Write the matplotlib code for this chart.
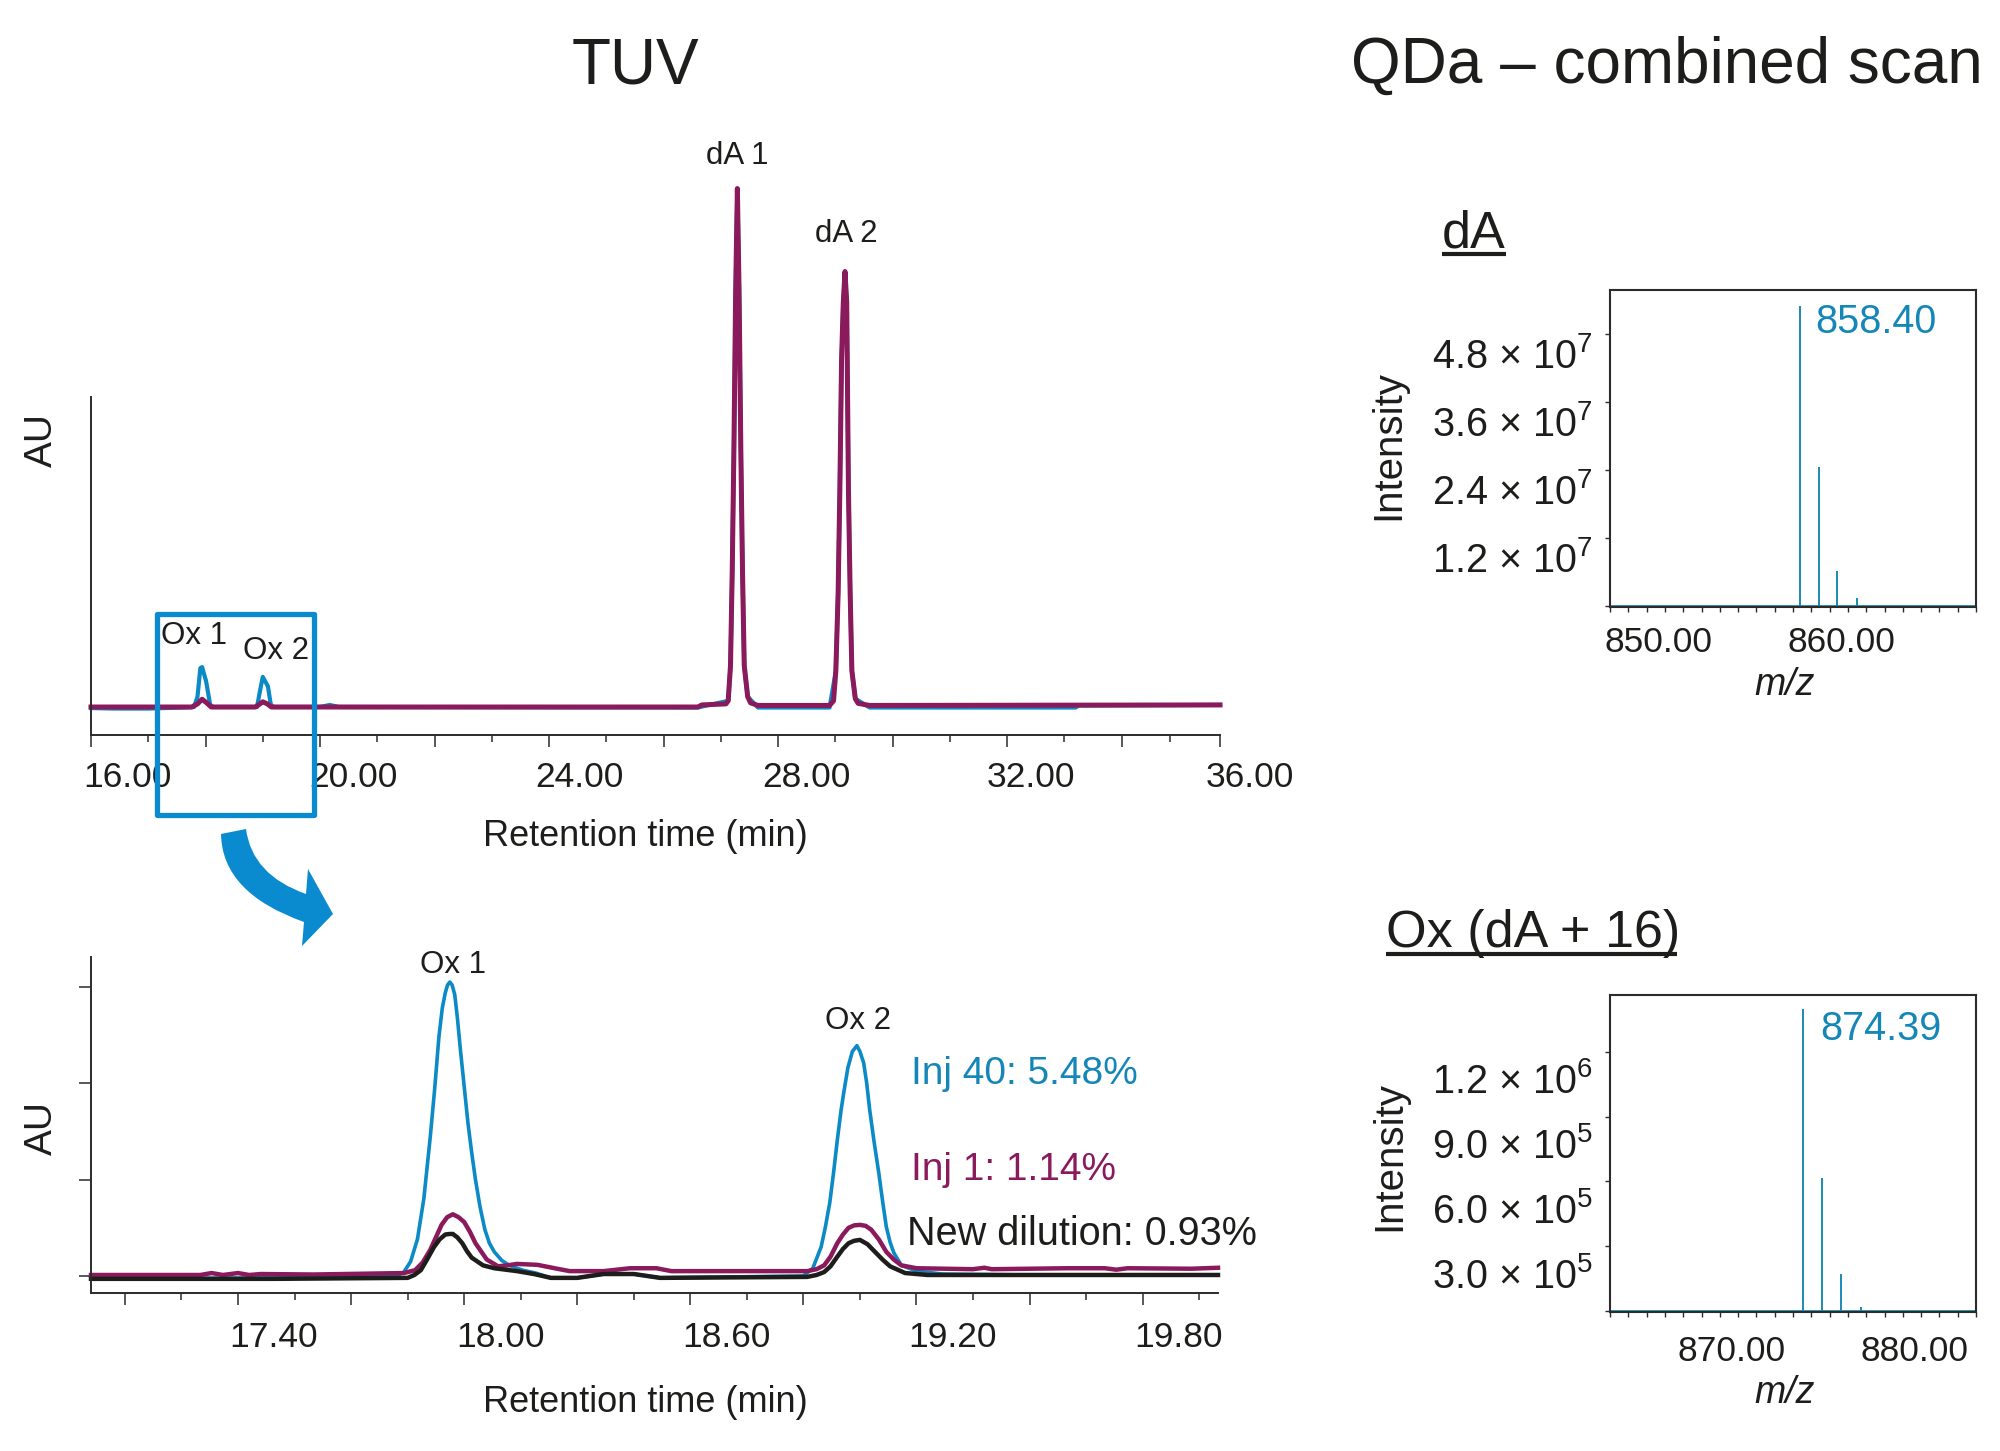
import numpy as np
import matplotlib
matplotlib.use("Agg")
import matplotlib.pyplot as plt
from matplotlib.patches import PathPatch, Rectangle
from matplotlib.path import Path
from matplotlib.transforms import Affine2D

plt.rcParams['font.family'] = ['Liberation Sans', 'DejaVu Sans']
plt.rcParams['mathtext.fontset'] = 'custom'
plt.rcParams['mathtext.rm'] = 'Liberation Sans'
plt.rcParams['mathtext.it'] = 'Liberation Sans:italic'
plt.rcParams['mathtext.default'] = 'regular'

BLUE = "#0b8ac6"
BOX_BLUE = "#0a8bcf"
BURGUNDY = "#8a1a5c"
BLACK = "#1d1d1b"
TEAL = "#1b8bb5"
LABEL_BLUE = "#1586b8"
AXIS = "#2b2b2b"

# full chromatogram, scaled so that dA 1 = 1
full_inj1_t = [16.0, 17.76, 17.86, 17.94, 18.02, 18.1, 18.87, 18.95, 19.0, 19.08, 19.15, 26.6, 26.67, 27.09, 27.13,
               27.17, 27.2, 27.23, 27.26, 27.29, 27.32, 27.35, 27.38, 27.41, 27.47, 27.52, 27.65, 28.9, 28.97, 29.01,
               29.05, 29.08, 29.11, 29.14, 29.17, 29.2, 29.23, 29.26, 29.29, 29.35, 29.4, 29.6, 35.72]
full_inj1_y = [0.0, 0.0, 0.006, 0.015, 0.008, 0.0, 0.0, 0.006, 0.01, 0.006, 0.0, 0.0, 0.004, 0.006, 0.012,
               0.08, 0.26, 0.5, 0.8, 1.0, 0.8, 0.5, 0.26, 0.08, 0.02, 0.008, 0.003, 0.003, 0.012, 0.07,
               0.22, 0.42, 0.67, 0.78, 0.84, 0.78, 0.42, 0.22, 0.07, 0.016, 0.007, 0.003, 0.004]
full_inj40_t = [16.0, 16.4, 17.0, 17.6, 17.8, 17.86, 17.91, 17.94, 18.01, 18.08, 18.13, 18.9, 18.95, 19.0, 19.09,
                19.14, 19.19, 20.0, 20.17, 20.33, 26.6, 27.13, 27.17, 27.2, 27.23, 27.26, 27.29, 27.32, 27.35, 27.38,
                27.41, 27.47, 27.65, 28.9, 29.01, 29.05, 29.08, 29.11, 29.14, 29.17, 29.2, 29.23, 29.26, 29.29, 29.35,
                29.6, 33.2, 33.25, 35.72]
full_inj40_y = [-0.002, -0.003, -0.003, -0.001, 0.0, 0.02, 0.075, 0.077, 0.05, 0.005, 0.0, 0.0, 0.03, 0.058, 0.04,
                0.005, 0.0, 0.0, 0.004, 0.0, -0.001, 0.012, 0.08, 0.26, 0.5, 0.8, 1.0, 0.8, 0.5, 0.26,
                0.08, 0.02, -0.001, -0.001, 0.07, 0.22, 0.42, 0.67, 0.78, 0.84, 0.78, 0.42, 0.22, 0.07, 0.016,
                -0.001, -0.001, 0.003, 0.004]

# zoomed chromatogram, 17-20 min
zoom_inj40_t = [17.01, 17.5, 17.82, 17.84, 17.858, 17.876, 17.893, 17.91, 17.922, 17.933, 17.942, 17.95, 17.956, 17.962,
                17.968, 17.975, 17.982, 17.99, 18.0, 18.01, 18.02, 18.03, 18.042, 18.055, 18.067, 18.08, 18.1, 18.12,
                18.155, 18.19, 18.23, 18.3, 18.37, 18.45, 18.52, 18.9, 18.925, 18.947, 18.958, 18.97, 18.98, 18.99,
                19.0, 19.007, 19.018, 19.03, 19.036, 19.042, 19.05, 19.06, 19.068, 19.076, 19.088, 19.1, 19.11, 19.12,
                19.13, 19.14, 19.16, 19.2, 19.27, 19.5]
zoom_inj40_y = [-0.03, -0.02, 0.0, 0.04, 0.15, 0.38, 0.8, 1.44, 1.95, 2.48, 2.78, 2.94, 3.02, 3.05,
                3.02, 2.92, 2.68, 2.35, 1.97, 1.59, 1.28, 1.0, 0.72, 0.48, 0.34, 0.25, 0.16, 0.11,
                0.06, 0.03, -0.02, -0.02, 0.02, 0.02, -0.02, 0.0, 0.08, 0.30, 0.5, 0.76, 1.07, 1.41,
                1.72, 1.9, 2.16, 2.33, 2.36, 2.39, 2.33, 2.21, 2.0, 1.72, 1.38, 1.07, 0.78, 0.51,
                0.35, 0.24, 0.11, 0.05, 0.02, 0.01]
zoom_inj1_t = [17.01, 17.3, 17.33, 17.36, 17.4, 17.43, 17.46, 17.6, 17.84, 17.87, 17.89, 17.91, 17.925, 17.94, 17.955,
               17.97, 17.985, 18.0, 18.015, 18.03, 18.06, 18.09, 18.115, 18.14, 18.195, 18.24, 18.28, 18.37, 18.44,
               18.51, 18.55, 18.91, 18.935, 18.955, 18.972, 18.99, 19.005, 19.02, 19.035, 19.05, 19.065, 19.08, 19.1,
               19.12, 19.14, 19.16, 19.2, 19.35, 19.38, 19.4, 19.6, 19.7, 19.73, 19.76, 19.93, 20.0]
zoom_inj1_y = [0.01, 0.01, 0.03, 0.01, 0.03, 0.01, 0.02, 0.015, 0.03, 0.06, 0.14, 0.27, 0.4, 0.53, 0.61,
               0.64, 0.61, 0.56, 0.46, 0.34, 0.17, 0.1, 0.11, 0.125, 0.115, 0.08, 0.05, 0.05, 0.08,
               0.08, 0.05, 0.05, 0.07, 0.11, 0.2, 0.34, 0.43, 0.5, 0.525, 0.53, 0.52, 0.48, 0.38,
               0.25, 0.17, 0.11, 0.08, 0.07, 0.085, 0.07, 0.08, 0.08, 0.065, 0.08, 0.075, 0.085]
zoom_dilution_t = [17.01, 17.5, 17.85, 17.868, 17.885, 17.9, 17.92, 17.935, 17.95, 17.96, 17.97, 17.982, 17.995, 18.007,
                   18.02, 18.05, 18.08, 18.14, 18.185, 18.23, 18.3, 18.37, 18.45, 18.52, 18.91, 18.935, 18.955, 18.972,
                   18.99, 19.005, 19.02, 19.035, 19.05, 19.07, 19.09, 19.11, 19.13, 19.17, 19.23, 20.0]
zoom_dilution_y = [-0.03, -0.03, -0.02, 0.01, 0.06, 0.16, 0.3, 0.38, 0.43, 0.435, 0.436, 0.4, 0.34, 0.26,
                   0.19, 0.11, 0.08, 0.05, 0.02, -0.02, -0.02, 0.02, 0.02, -0.02, -0.01, 0.01, 0.04, 0.1,
                   0.2, 0.28, 0.34, 0.365, 0.374, 0.33, 0.25, 0.17, 0.1, 0.03, 0.01, 0.01]

# mass spectra
da_mz = [858.40, 859.40, 860.40, 861.50]
da_intensity = [5.29e7, 2.45e7, 0.61e7, 0.14e7]
ox_mz = [874.52, 875.60, 876.65, 877.70]
ox_intensity = [1.398e6, 0.614e6, 0.17e6, 0.02e6]

full_major = [16, 18, 20, 22, 24, 26, 28, 30, 32, 34, 35.72]
full_minor = [17, 19, 21, 23, 25, 27, 29, 31, 33, 34.85]
full_labels = ["16.00", "", "20.00", "", "24.00", "", "28.00", "", "32.00", "", "36.00"]
zoom_major = [17.1, 17.4, 17.7, 18.0, 18.3, 18.6, 18.9, 19.2, 19.5, 19.8]
zoom_minor = [17.25, 17.55, 17.85, 18.15, 18.45, 18.75, 19.05, 19.35, 19.65, 19.95]
zoom_labels = ["", "17.40", "", "18.00", "", "18.60", "", "19.20", "", "19.80"]
zoom_au_ticks = [0, 1, 2, 3]

da_y_ticks = [0, 1.2e7, 2.4e7, 3.6e7, 4.8e7]
da_y_labels = ["", "1.2 × 10$^{7}$", "2.4 × 10$^{7}$", "3.6 × 10$^{7}$", "4.8 × 10$^{7}$"]
ox_y_ticks = [0, 3e5, 6e5, 9e5, 1.2e6]
ox_y_labels = ["", "3.0 × 10$^{5}$", "6.0 × 10$^{5}$", "9.0 × 10$^{5}$", "1.2 × 10$^{6}$"]

W, H = 2000, 1451
fig = plt.figure(figsize=(W / 100, H / 100), dpi=100, facecolor="white")


def px_axes(left, top, right, bottom):
    return fig.add_axes([left / W, 1 - bottom / H, (right - left) / W, (bottom - top) / H])


def shift_labels(ticks, dx, dy):
    # tick labels in the figure sit off their ticks; dy is pixels downwards
    for tick, off in zip(ticks, dx):
        tick.label1.set_transform(tick.label1.get_transform() + Affine2D().translate(off, -dy))


def chrom_axes(ax, major, minor, labels, xlim, ylim, pad, dx):
    ax.spines[["top", "right"]].set_visible(False)
    ax.spines[["left", "bottom"]].set_linewidth(1.4)
    ax.spines[["left", "bottom"]].set_color(AXIS)
    ax.set_xlim(*xlim)
    ax.set_ylim(*ylim)
    ax.set_xticks(major, labels=labels)
    ax.set_xticks(minor, minor=True)
    ax.tick_params(axis="x", which="major", length=8.5, width=1.1, color=AXIS, labelsize=25.5,
                   labelcolor=BLACK, pad=pad)
    ax.tick_params(axis="x", which="minor", length=5, width=1.1, color=AXIS)
    shift_labels(ax.xaxis.get_major_ticks(), dx, 0)
    ax.patch.set_alpha(0)


def spectrum_axes(ax, mz, intensity, xlim, ylim, yticks, ylabels, xlabels, dy, xpad):
    for spine in ax.spines.values():
        spine.set_linewidth(1.5)
        spine.set_color(AXIS)
    ax.set_xlim(*xlim)
    ax.set_ylim(*ylim)
    ax.vlines(mz, 0, intensity, color=TEAL, lw=1.4)
    ax.axhline(0, color=TEAL, lw=2)
    xticks = list(range(xlim[0], xlim[1] + 1))
    ax.set_xticks(xticks, labels=[xlabels.get(v, "") for v in xticks])
    ax.set_yticks(yticks, labels=ylabels)
    ax.tick_params(axis="x", length=3.5, width=1, color=AXIS, labelsize=25.5, labelcolor=BLACK, pad=xpad)
    ax.tick_params(axis="y", length=3.5, width=1, color=AXIS, labelsize=28.5, labelcolor=BLACK, pad=9)
    shift_labels(ax.xaxis.get_major_ticks(), [12] * len(xticks), 0)
    shift_labels(ax.yaxis.get_major_ticks(), [0] * len(yticks), dy)


# top chromatogram
ax_full = px_axes(91, 397, 1220, 735)
ax_full.plot(full_inj40_t, full_inj40_y, color=BLUE, lw=3, clip_on=False)
ax_full.plot(full_inj1_t, full_inj1_y, color=BURGUNDY, lw=3.6, clip_on=False)
chrom_axes(ax_full, full_major, full_minor, full_labels, (16, 35.72), (-0.054, 0.598), 10,
           [36, 0, 33, 0, 30, 0, 28, 0, 24, 0, 30])
ax_full.set_yticks([])

# zoomed chromatogram
ax_zoom = px_axes(91, 957, 1218, 1293)
ax_zoom.plot(zoom_inj40_t, zoom_inj40_y, color=BLUE, lw=2.6, clip_on=False)
ax_zoom.plot(zoom_inj1_t, zoom_inj1_y, color=BURGUNDY, lw=3.2, clip_on=False)
ax_zoom.plot(zoom_dilution_t, zoom_dilution_y, color=BLACK, lw=3.2, clip_on=False)
chrom_axes(ax_zoom, zoom_major, zoom_minor, zoom_labels, (17.01, 20), (-0.177, 3.31), 12, [36] * 10)
ax_zoom.set_yticks(zoom_au_ticks, labels=[])
ax_zoom.tick_params(axis="y", length=8.5, width=1.1, color=AXIS)

# mass spectra
ax_da = px_axes(1610, 290, 1976, 607)
spectrum_axes(ax_da, da_mz, da_intensity, (848, 868), (-0.02e7, 5.57e7), da_y_ticks, da_y_labels,
              {850: "850.00", 860: "860.00"}, 19, 10)
ax_ox = px_axes(1610, 995, 1976, 1312)
spectrum_axes(ax_ox, ox_mz, ox_intensity, (864, 884), (-0.005e6, 1.463e6), ox_y_ticks, ox_y_labels,
              {870: "870.00", 880: "880.00"}, 26, 13)

# overlay in picture pixels, for titles, the zoom box and the arrow
ov = fig.add_axes([0, 0, 1, 1], zorder=10)
ov.set_xlim(0, W)
ov.set_ylim(H, 0)
ov.axis("off")


def put(x, y, s, size, color=BLACK, ha="center", va="center", **kw):
    ov.text(x, y, s, fontsize=size, color=color, ha=ha, va=va, **kw)


put(635, 66, "TUV", 46)
put(1667, 66, "QDa – combined scan", 46)
put(1442, 247, "dA", 37.5, ha="left", va="baseline")
ov.plot([1442, 1506], [254, 254], color=BLACK, lw=3, solid_capstyle="butt")
put(1386, 947, "Ox (dA + 16)", 37.5, ha="left", va="baseline")
ov.plot([1386, 1677], [954, 954], color=BLACK, lw=3, solid_capstyle="butt")

put(737, 156, "dA 1", 22.5)
put(846, 234, "dA 2", 22.5)
put(194, 636, "Ox 1", 22.5)
put(276, 651, "Ox 2", 22.5)
put(453, 965, "Ox 1", 22.5)
put(858, 1021, "Ox 2", 22.5)

put(42, 440, "AU", 28, rotation=90)
put(42, 1128, "AU", 28, rotation=90)
put(645, 837, "Retention time (min)", 26)
put(645, 1402, "Retention time (min)", 26)

put(911, 1074, "Inj 40: 5.48%", 28, color=LABEL_BLUE, ha="left")
put(911, 1170, "Inj 1: 1.14%", 28, color=BURGUNDY, ha="left")
put(907, 1234, "New dilution: 0.93%", 28.5, ha="left")

put(1815, 322, "858.40", 28.5, color=LABEL_BLUE, ha="left")
put(1820, 1029, "874.39", 28.5, color=LABEL_BLUE, ha="left")
put(1388, 445, "Intensity", 29, rotation=90)
put(1389, 1156, "Intensity", 29, rotation=90)
put(1785, 685, "m/z", 27, style="italic")
put(1785, 1393, "m/z", 27, style="italic")

ov.add_patch(Rectangle((157, 613.5), 156.5, 201, fill=False, edgecolor=BOX_BLUE, lw=3.8, joinstyle="round"))
arrow_verts = [(221, 834), (246, 829), (252, 875), (306, 894), (308, 869), (333, 914), (302, 946), (304, 922),
               (222, 893), (221, 834)]
arrow_codes = [Path.MOVETO, Path.LINETO, Path.CURVE3, Path.CURVE3, Path.LINETO, Path.LINETO, Path.LINETO, Path.LINETO,
               Path.CURVE3, Path.CURVE3]
ov.add_patch(PathPatch(Path(arrow_verts, arrow_codes), facecolor=BOX_BLUE, edgecolor="none"))

fig.savefig("out.png", dpi=100)
